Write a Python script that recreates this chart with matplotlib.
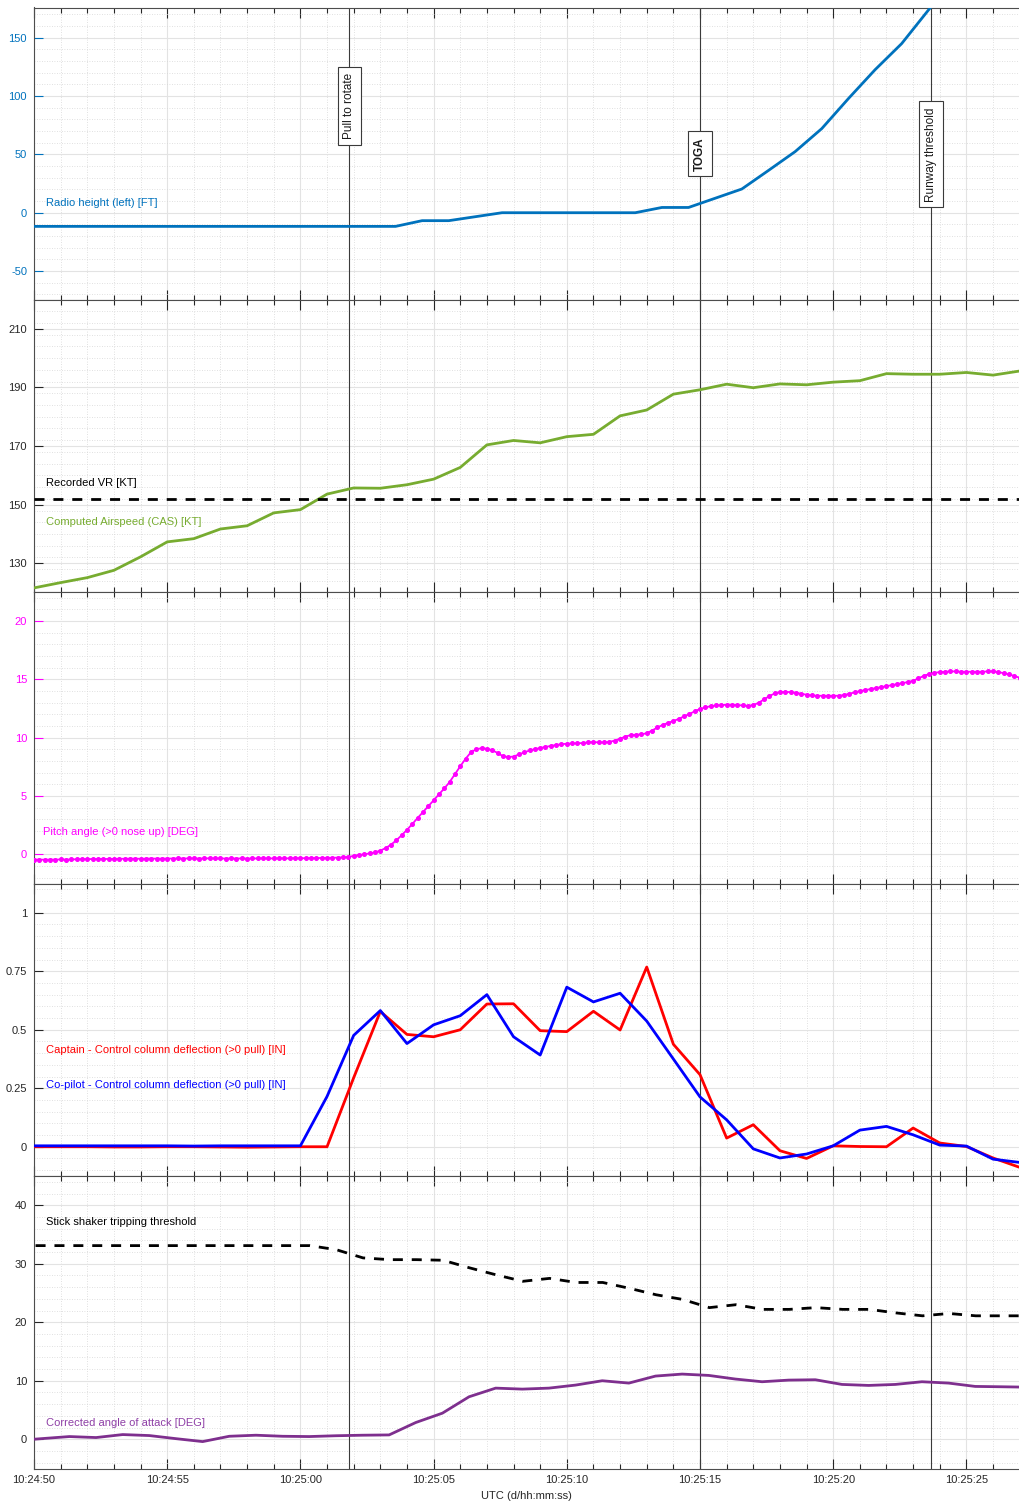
import numpy as np
import matplotlib.pyplot as plt
from matplotlib.ticker import MultipleLocator

plt.rcParams['font.family'] = ['Liberation Sans', 'DejaVu Sans']
plt.rcParams['axes.unicode_minus'] = False

# seconds after 10:24:50
xtick_labels = ['10:24:50', '10:24:55', '10:25:00', '10:25:05',
                '10:25:10', '10:25:15', '10:25:20', '10:25:25']
event_names = ['Pull to rotate', 'TOGA', 'Runway threshold']
event_times = [11.84, 25.0, 33.67]

# radio height, 1 Hz, first sample at -0.43 s
radio_ft = [-11.7, -11.7, -11.7, -11.7, -11.7, -11.7, -11.7, -11.7, -11.7, -11.7,
            -11.7, -11.7, -11.7, -11.7, -11.7, -6.8, -6.8, -3.4, 0.0, 0.0,
            0.0, 0.0, 0.0, 0.0, 4.5, 4.5, 12.4, 20.3, 36.2, 52.3,
            72.0, 97.7, 122.4, 144.8, 173.4, 201.0]

# computed airspeed, 1 Hz from 0 s
cas_kt = [121.6, 123.4, 125.1, 127.6, 132.2, 137.3, 138.4, 141.7, 142.8, 147.2,
          148.3, 153.6, 155.7, 155.6, 156.8, 158.7, 162.7, 170.4, 171.9, 171.1,
          173.2, 174.0, 180.3, 182.3, 187.7, 189.2, 191.1, 189.9, 191.2, 190.9,
          191.8, 192.3, 194.7, 194.5, 194.5, 195.1, 194.2, 195.6]
vr_kt = 152

# pitch attitude, 5 Hz from 0 s
pitch_deg = [-0.45, -0.45, -0.46, -0.45, -0.45, -0.44, -0.45, -0.44,
             -0.42, -0.41, -0.41, -0.40, -0.40, -0.39, -0.40, -0.39,
             -0.38, -0.38, -0.37, -0.37, -0.38, -0.37, -0.36, -0.37,
             -0.37, -0.36, -0.36, -0.35, -0.36, -0.35, -0.35, -0.36,
             -0.35, -0.34, -0.35, -0.35, -0.36, -0.35, -0.36, -0.35,
             -0.36, -0.35, -0.35, -0.34, -0.35, -0.35, -0.34, -0.35,
             -0.34, -0.33, -0.33, -0.33, -0.32, -0.32, -0.31, -0.30,
             -0.30, -0.28, -0.26,
             -0.23, -0.13, -0.05, 0.00, 0.09, 0.16, 0.32, 0.54, 0.83, 1.20,
             1.64, 2.10, 2.60, 3.12, 3.62, 4.12, 4.63, 5.15, 5.65, 6.20,
             6.88, 7.55, 8.20, 8.75, 9.02, 9.10, 9.06, 8.93, 8.70, 8.42,
             8.34, 8.39, 8.57, 8.74, 8.91, 9.02, 9.12, 9.21, 9.30, 9.38,
             9.44, 9.49, 9.51, 9.52, 9.55, 9.60, 9.63, 9.60, 9.60, 9.64,
             9.76, 9.92, 10.10, 10.23, 10.26, 10.29, 10.39, 10.62, 10.88, 11.10,
             11.27, 11.44, 11.61, 11.84, 12.03, 12.27, 12.47, 12.60, 12.71, 12.77,
             12.80, 12.83, 12.83, 12.80, 12.77, 12.74, 12.80, 13.00, 13.29, 13.57,
             13.80, 13.91, 13.94, 13.91, 13.86, 13.77, 13.69, 13.63, 13.60, 13.60,
             13.60, 13.60, 13.60, 13.66, 13.77, 13.89, 14.00, 14.09, 14.17, 14.26,
             14.34, 14.43, 14.51, 14.60, 14.69, 14.77, 14.89, 15.09, 15.31, 15.46,
             15.57, 15.63, 15.66, 15.69, 15.69, 15.66, 15.66, 15.66, 15.66, 15.66,
             15.69, 15.69, 15.63, 15.54, 15.43, 15.29, 15.15]

# control column deflection, 1 Hz from 0 s
capt_in = [0.0, 0.0, 0.0, -0.001, -0.001, 0.0, 0.0, -0.001, -0.002, -0.001,
           0.0, 0.0, 0.295, 0.578, 0.48, 0.47, 0.50, 0.61, 0.611, 0.496,
           0.492, 0.579, 0.499, 0.768, 0.438, 0.308, 0.037, 0.094, -0.017, -0.05,
           0.004, 0.001, 0.0, 0.08, 0.016, 0.001, -0.048, -0.088]
fo_in = [0.004, 0.004, 0.004, 0.004, 0.004, 0.004, 0.003, 0.004, 0.004, 0.004,
         0.004, 0.215, 0.476, 0.582, 0.441, 0.521, 0.56, 0.65, 0.47, 0.392,
         0.682, 0.619, 0.656, 0.537, 0.375, 0.213, 0.115, -0.009, -0.048, -0.031,
         0.004, 0.071, 0.087, 0.051, 0.007, 0.003, -0.053, -0.067]

# stick shaker threshold, 1 Hz, first sample at -0.65 s
shaker_deg = [33.1, 33.1, 33.1, 33.1, 33.1, 33.1, 33.1, 33.1, 33.1, 33.1,
              33.1, 33.1, 32.4, 31.0, 30.7, 30.7, 30.6, 29.3, 28.1, 27.0,
              27.5, 26.8, 26.8, 25.8, 24.7, 23.9, 22.5, 23.0, 22.2, 22.2,
              22.5, 22.2, 22.2, 21.6, 21.1, 21.5, 21.1, 21.1, 21.1]

# corrected AoA, 1 Hz, first sample at -0.67 s
aoa_deg = [-0.23, 0.12, 0.46, 0.29, 0.80, 0.63, 0.10, -0.40, 0.51, 0.69,
           0.51, 0.46, 0.60, 0.69, 0.74, 2.86, 4.46, 7.26, 8.74, 8.57,
           8.74, 9.26, 10.0, 9.60, 10.8, 11.14, 10.91, 10.29, 9.83, 10.11,
           10.17, 9.37, 9.20, 9.37, 9.83, 9.60, 9.03, 8.97, 8.90]

t_radio = np.arange(len(radio_ft)) - 0.43
t_cas = np.arange(len(cas_kt))
t_pitch = np.arange(len(pitch_deg)) * 0.2
t_col = np.arange(len(capt_in))
t_shaker = np.arange(len(shaker_deg)) - 0.65
t_aoa = np.arange(len(aoa_deg)) - 0.67

W, H = 1019, 1505
fig = plt.figure(figsize=(W / 100, H / 100), dpi=100)

axis_col = '#262626'
tops = [7.5, 299.5, 592.0, 883.5, 1176.0]
bots = [299.5, 592.0, 883.5, 1176.0, 1468.5]
x0, x1 = 34, 1019.7

axes = []
for top, bot in zip(tops, bots):
    ax = fig.add_axes([x0 / W, 1 - bot / H, (x1 - x0) / W, (bot - top) / H])
    ax.set_xlim(0, 37)
    ax.xaxis.set_major_locator(MultipleLocator(5))
    ax.xaxis.set_minor_locator(MultipleLocator(1))
    ax.grid(which='major', color='#e3e3e3', lw=0.8, ls='-')
    ax.grid(which='minor', color='#d6d6d6', lw=0.6, ls=(0, (1, 2)))
    ax.set_axisbelow(True)
    ax.tick_params(axis='x', which='both', direction='in', top=True, bottom=True,
                   color=axis_col, labelbottom=False, width=0.8)
    ax.tick_params(axis='x', which='major', length=7)
    ax.tick_params(axis='x', which='minor', length=3.5)
    ax.tick_params(axis='y', which='major', direction='in', length=6.5, width=0.8,
                   color=axis_col, labelsize=8, pad=5, labelcolor=axis_col)
    ax.tick_params(axis='y', which='minor', length=0)
    for side in ['left', 'top', 'bottom']:
        ax.spines[side].set_color('#4d4d4d')
        ax.spines[side].set_linewidth(0.8)
    ax.spines['right'].set_visible(False)
    for et in event_times:
        ax.axvline(et, color='#3a3a3a', lw=0.8, zorder=2)
    axes.append(ax)

ax1, ax2, ax3, ax4, ax5 = axes
lx = 0.45
dash = (0, (3.6, 3.2))

# radio height
ax1.plot(t_radio, radio_ft, color='#0072BD', lw=2.0, zorder=3)
ax1.set_ylim(-74.3, 175.7)
ax1.set_yticks([-50, 0, 50, 100, 150])
ax1.yaxis.set_minor_locator(MultipleLocator(10))
ax1.tick_params(axis='y', labelcolor='#0072BD', color='#0072BD')
ax1.text(lx, 8, 'Radio height (left) [FT]', color='#0072BD', fontsize=8, va='center')
label_y = [91, 50.5, 50]
for et, name, ly in zip(event_times, event_names, label_y):
    ax1.text(et, ly, name, rotation=90, ha='center', va='center', fontsize=8.5,
             fontweight='bold' if name == 'TOGA' else 'normal', color='#1a1a1a',
             bbox=dict(boxstyle='square,pad=0.5', fc='white', ec='#3a3a3a', lw=0.8),
             zorder=5)

# airspeed
ax2.plot(t_cas, cas_kt, color='#77AC30', lw=2.0, zorder=3)
ax2.axhline(vr_kt, color='black', lw=2.0, ls=dash, zorder=3)
ax2.set_ylim(120.2, 220)
ax2.set_yticks([130, 150, 170, 190, 210])
ax2.yaxis.set_minor_locator(MultipleLocator(4))
ax2.text(lx, 157.3, 'Recorded VR [KT]', color='black', fontsize=8, va='center')
ax2.text(lx, 144.1, 'Computed Airspeed (CAS) [KT]', color='#77AC30', fontsize=8, va='center')

# pitch
ax3.plot(t_pitch, pitch_deg, color='#FF00FF', lw=1.3, marker='o', ms=2.6, zorder=3)
ax3.set_ylim(-2.5, 22.5)
ax3.set_yticks([0, 5, 10, 15, 20])
ax3.yaxis.set_minor_locator(MultipleLocator(1))
ax3.tick_params(axis='y', labelcolor='#FF00FF', color='#FF00FF')
ax3.text(0.35, 1.9, 'Pitch angle (>0 nose up) [DEG]', color='#FF00FF', fontsize=8, va='center')

# control columns
ax4.plot(t_col, capt_in, color='#FF0000', lw=2.0, zorder=3)
ax4.plot(t_col, fo_in, color='#0000FF', lw=2.0, zorder=4)
ax4.set_ylim(-0.125, 1.125)
ax4.set_yticks([0, 0.25, 0.5, 0.75, 1])
ax4.set_yticklabels(['0', '0.25', '0.5', '0.75', '1'])
ax4.yaxis.set_minor_locator(MultipleLocator(0.05))
ax4.text(lx, 0.415, 'Captain - Control column deflection (>0 pull) [IN]',
         color='#FF0000', fontsize=8, va='center')
ax4.text(lx, 0.265, 'Co-pilot - Control column deflection (>0 pull) [IN]',
         color='#0000FF', fontsize=8, va='center')

# angle of attack
ax5.plot(t_shaker, shaker_deg, color='black', lw=2.0, ls=dash, zorder=3)
ax5.plot(t_aoa, aoa_deg, color='#7E2F8E', lw=2.0, zorder=3)
ax5.set_ylim(-5, 45)
ax5.set_yticks([0, 10, 20, 30, 40])
ax5.yaxis.set_minor_locator(MultipleLocator(2))
ax5.text(lx, 37.1, 'Stick shaker tripping threshold', color='black', fontsize=8, va='center')
ax5.text(lx, 2.8, 'Corrected angle of attack [DEG]', color='#8E3FA6', fontsize=8, va='center')

ax5.set_xticks(np.arange(0, 36, 5))
ax5.set_xticklabels(xtick_labels)
ax5.tick_params(axis='x', labelbottom=True, labelsize=8, pad=5, labelcolor=axis_col)
ax5.set_xlabel('UTC (d/hh:mm:ss)', fontsize=8, color=axis_col, labelpad=4)

fig.savefig('out.png', dpi=100, facecolor='white')
